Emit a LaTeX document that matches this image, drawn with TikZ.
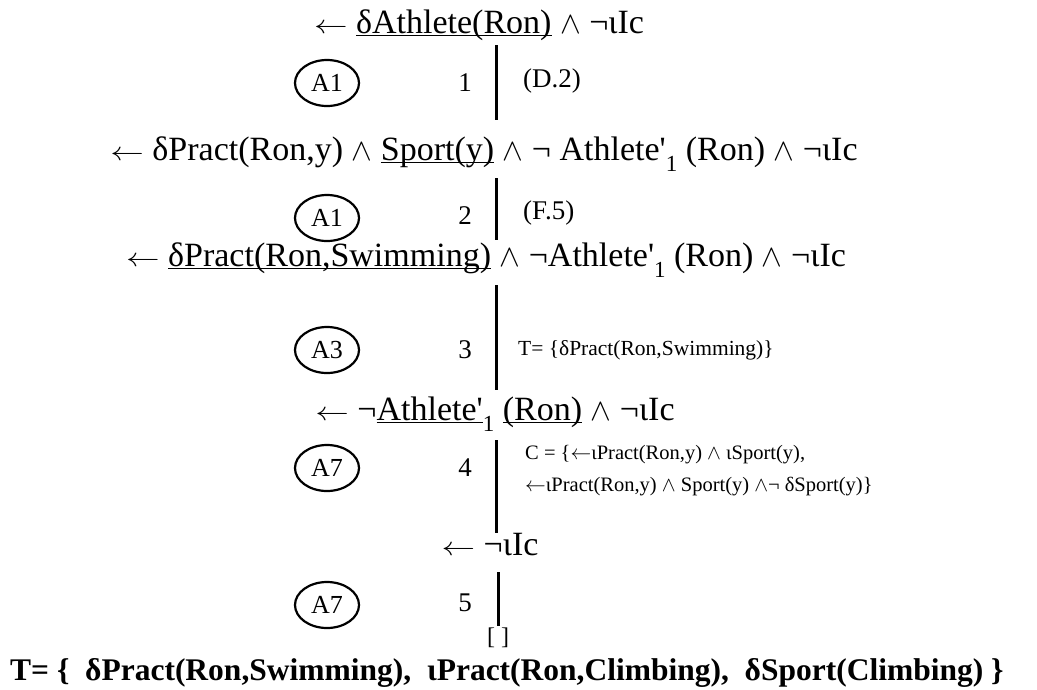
\documentclass[tikz,border=0pt]{standalone}
\usepackage{fontspec}
\setmainfont{Liberation Serif}[Ligatures=TeXOff]
\usetikzlibrary{shapes.geometric}
\newcommand\ulx[1]{\setbox0\hbox{#1}\rlap{\rule[-3pt]{\wd0}{1.4pt}}\box0}
\newcommand\sbx[1]{\raisebox{-11pt}{\fontsize{23}{23}\selectfont #1}}
\newcommand\myla{\scalebox{1.35}[1.05]{$\leftarrow$}}
\newcommand\smla{$\leftarrow$}
\newcommand\myan{\scalebox{1.25}{$\wedge$}}
\newcommand\sman{$\wedge$}
\begin{document}
\begin{tikzpicture}[x=1pt,y=-1pt,
  goal/.style={inner sep=0pt,anchor=base,font=\fontsize{34}{38}\selectfont},
  rulebox/.style={draw,ellipse,line width=2.2pt,minimum width=64pt,minimum height=46pt,inner sep=0pt,font=\fontsize{26}{28}\selectfont},
  num/.style={inner sep=0pt,font=\fontsize{27}{29}\selectfont},
  note/.style={inner sep=0pt,anchor=west,font=\fontsize{27}{29}\selectfont},
  edge/.style={line width=3pt}]
\useasboundingbox (0,0) rectangle (1037,689);
% goals
\node[goal] (g1) at (479,33) {\myla\ \ulx{δAthlete(Ron)}\ \myan\ ¬ιIc};
\node[goal] (g2) at (484,160) {\myla\ δPract(Ron,y) \myan\ \ulx{Sport(y)}\ \myan\ ¬ Athlete'\sbx{1} (Ron) \myan\ ¬ιIc};
\node[goal] (g3) at (486,266) {\myla\ \ulx{δPract(Ron,Swimming)}\ \myan\ ¬Athlete'\sbx{1} (Ron) \myan\ ¬ιIc};
\node[goal] (g4) at (495,420) {\myla\ ¬\ulx{Athlete'}\sbx{1} \ulx{(Ron)}\ \myan\ ¬ιIc};
\node[goal] (g5) at (490,555) {\myla\ ¬ιIc};
\node[inner sep=0pt,font=\fontsize{24}{26}\selectfont] (g6) at (498,638) {[ ]};
% rules
\node[rulebox] (r1) at (327,83) {A1};
\node[rulebox] (r2) at (327,218) {A1};
\node[rulebox] (r3) at (327,350) {A3};
\node[rulebox] (r4) at (327,468) {A7};
\node[rulebox] (r5) at (327,605) {A7};
% step numbers
\node[num] (n1) at (465,83) {1};
\node[num] (n2) at (465,216) {2};
\node[num] (n3) at (465,350) {3};
\node[num] (n4) at (465,468) {4};
\node[num] (n5) at (465,603) {5};
% notes
\node[note] (t1) at (523,81) {(D.2)};
\node[note] (t2) at (523,213) {(F.5)};
\node[note,font=\fontsize{21.5}{23}\selectfont] (t3) at (518,350) {T= \{δPract(Ron,Swimming)\}};
\node[note,font=\fontsize{20.5}{32}\selectfont,align=left] (t4) at (525,471) {C = \{\smla ιPract(Ron,y) \sman\ ιSport(y),\\ \smla ιPract(Ron,y) \sman\ Sport(y) \sman¬ δSport(y)\}};
% edges
\coordinate (a1) at (496,45); \coordinate (b1) at (496,120);
\coordinate (a2) at (496,178); \coordinate (b2) at (496,240);
\coordinate (a3) at (496,285); \coordinate (b3) at (496,390);
\coordinate (a4) at (496,440); \coordinate (b4) at (496,533);
\coordinate (a5) at (498,572); \coordinate (b5) at (498,626);
\draw[edge] (a1) -- (b1);
\draw[edge] (a2) -- (b2);
\draw[edge] (a3) -- (b3);
\draw[edge] (a4) -- (b4);
\draw[edge] (a5) -- (b5);
% result
\node[inner sep=0pt,anchor=base west,font=\bfseries\fontsize{31.5}{34}\selectfont] (res) at (10,680) {T= \{\ \ δPract(Ron,Swimming),\ \ ιPract(Ron,Climbing),\ \ δSport(Climbing)\ \}};
\end{tikzpicture}
\end{document}
